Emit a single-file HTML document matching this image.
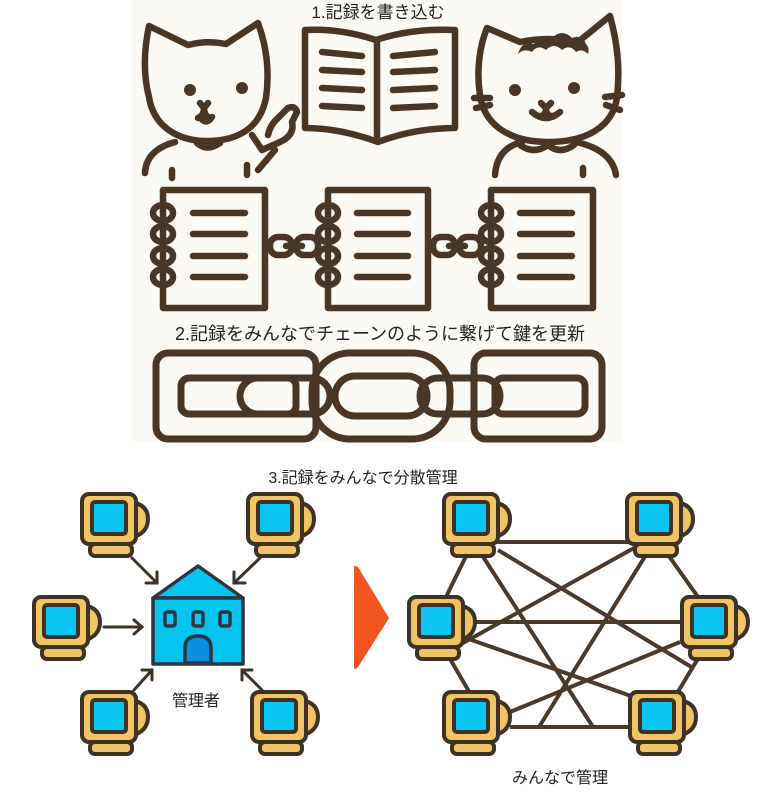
<!DOCTYPE html>
<html><head><meta charset="utf-8"><style>
html,body{margin:0;padding:0;background:#fff;width:760px;height:800px;overflow:hidden}
svg{display:block}
text{font-family:"Liberation Sans","Noto Sans CJK JP",sans-serif;fill:#222}
</style></head><body>
<svg width="760" height="800" viewBox="0 0 760 800" xmlns="http://www.w3.org/2000/svg">
<defs>
<g id="mon">
  <path d="M48,8 Q66,10 66,25 Q66,40 48,44 Z" fill="#f0c364" stroke="#3e3226" stroke-width="4"/>
  <rect x="8" y="50" width="42" height="12" rx="5" fill="#f0c364" stroke="#3e3226" stroke-width="4"/>
  <rect x="0" y="0" width="54" height="50" rx="7" fill="#f0c364" stroke="#3e3226" stroke-width="4"/>
  <rect x="10" y="8" width="34" height="32" rx="3" fill="#0ac4f2" stroke="#3e3226" stroke-width="4"/>
</g>
</defs>
<rect x="132" y="0" width="490" height="442" fill="#fbfaf5"/>
<g fill="none" stroke="#4a3624" stroke-width="6.5" stroke-linecap="round" stroke-linejoin="round">
  <path d="M149,97 C142,70 145,45 149,26 L188,45 Q207,40 226,44 L258,23 C266,45 270,70 266,98 C260,128 238,141 207,141 C175,141 153,124 149,97Z"/>
  <path d="M200,103 L204,108 L208,103 M204,108 Q204,116 210,118 M204,108 Q204,116 198,118"/>
  <path d="M200,117 Q206,126 212,117"/>
  <path d="M145,173 Q146,150 175,142 M197,143 Q207,152 220,143"/>
  <path d="M252,135 L262,150 L280,142 Q295,135 292,122 L297,112 Q295,105 288,108 L278,118 Q270,125 268,135"/>
  <path d="M172,170 L172,178 M247,165 L247,175 M258,170 L275,150"/>
  <path d="M305,30 Q340,28 376,40 Q412,28 455,30 L455,128 Q415,128 378,142 Q340,128 305,128Z"/>
  <path d="M377,42 L377,140"/>
  <path d="M322,52 L362,56 M322,70 L362,72 M322,88 L362,90 M322,106 L362,108"/>
  <path d="M393,56 L435,52 M393,72 L435,70 M393,90 L435,88 M393,108 L435,106"/>
  <path d="M480,95 C476,70 480,45 487,28 L520,42 Q548,36 578,42 L610,16 C618,45 620,70 617,98 C612,128 585,142 548,142 C510,142 484,125 480,95Z"/>
  <path d="M474,98 L490,98 M476,108 L490,105 M605,97 L622,95 M606,105 L620,110"/>
  <path d="M541,103 L546,108 L551,103 M546,108 Q546,116 552,116 M546,108 Q546,116 540,116 M532,112 Q546,124 560,112"/>
  <path d="M495,175 Q497,148 522,142 M576,142 Q612,150 616,175 M520,145 Q534,155 548,145 Q560,155 574,145 M583,168 L583,175"/>
</g>
<g fill="#4a3624"><circle cx="190" cy="90" r="6"/><circle cx="242" cy="88" r="6"/><circle cx="515" cy="90" r="6"/><circle cx="574" cy="88" r="6"/>
<path d="M518,54 q4,-14 16,-10 q6,-12 18,-6 q10,-10 20,0 q10,-4 14,6 q4,4 2,10 q-6,-6 -12,-2 q-6,-8 -14,-2 q-8,-8 -16,0 q-8,-6 -14,2 q-8,-4 -14,2z"/></g>
<text x="378" y="18" font-size="17" text-anchor="middle">1.記録を書き込む</text>
<g fill="none" stroke="#4a3624" stroke-width="6.5" stroke-linecap="round" stroke-linejoin="round">
  <rect x="163" y="190" width="102" height="118"/>
  <rect x="328" y="190" width="100" height="118"/>
  <rect x="491" y="190" width="102" height="118"/>
  <path d="M193,213 L245,213 M193,234 L245,234 M193,256 L245,256 M193,277 L245,277"/>
  <path d="M357,213 L408,213 M357,234 L408,234 M357,256 L408,256 M357,277 L408,277"/>
  <path d="M520,213 L572,213 M520,234 L572,234 M520,256 L572,256 M520,277 L572,277"/>
  <g id="rings"><ellipse cx="163" cy="213" rx="10" ry="8"/><ellipse cx="163" cy="234" rx="10" ry="8"/><ellipse cx="163" cy="256" rx="10" ry="8"/><ellipse cx="163" cy="277" rx="10" ry="8"/></g>
  <use href="#rings" x="165"/><use href="#rings" x="328"/>
  <rect x="270" y="237" width="22" height="18" rx="8"/><rect x="296" y="237" width="22" height="18" rx="8"/><path d="M286,246 L302,246"/>
  <rect x="433" y="237" width="22" height="18" rx="8"/><rect x="459" y="237" width="22" height="18" rx="8"/><path d="M449,246 L465,246"/>
</g>
<text x="380" y="340" font-size="18" text-anchor="middle">2.記録をみんなでチェーンのように繋げて鍵を更新</text>
<g fill="none" stroke="#4a3624" stroke-width="7">
  <rect x="156" y="353" width="160" height="86" rx="12"/>
  <rect x="181" y="378" width="115" height="36" rx="8"/>
  <rect x="312" y="353" width="138" height="86" rx="38"/>
  <rect x="335" y="376" width="92" height="40" rx="20"/>
  <rect x="474" y="353" width="128" height="86" rx="12"/>
  <rect x="495" y="378" width="90" height="36" rx="8"/>
  <rect x="240" y="378" width="90" height="36" rx="18"/>
  <rect x="420" y="378" width="80" height="36" rx="18"/>
</g>
<text x="363" y="483" font-size="16" text-anchor="middle">3.記録をみんなで分散管理</text>
<g stroke="#4a3a2c" stroke-width="4">
  <path d="M468,542 L634,542 M468,552 L446,597 M480,552 L593,727 M498,550 L693,668 M634,548 L463,643 M649,550 L539,727 M666,552 L698,597 M476,622 L680,622 M463,637 L634,697 M446,652 L471,695 M680,642 L510,712 M702,652 L676,695 M510,727 L629,727"/>
</g>
<use href="#mon" x="444" y="494"/><use href="#mon" x="627" y="494"/>
<use href="#mon" x="409" y="597"/><use href="#mon" x="682" y="597"/>
<use href="#mon" x="444" y="692"/><use href="#mon" x="630" y="692"/>
<text x="560" y="783" font-size="16" text-anchor="middle">みんなで管理</text>
<use href="#mon" x="82" y="494"/><use href="#mon" x="248" y="494"/>
<use href="#mon" x="34" y="597"/>
<use href="#mon" x="82" y="692"/><use href="#mon" x="252" y="692"/>
<g fill="none" stroke="#3e3226" stroke-width="3" stroke-linecap="round">
  <path d="M132,558 L157,583 M157,572 L157,583 L146,583"/>
  <path d="M260,558 L234,583 M245,583 L234,583 L234,572"/>
  <path d="M104,627 L142,627 M134,620 L142,627 L134,634"/>
  <path d="M134,690 L152,670 M142,670 L152,670 L152,680"/>
  <path d="M262,690 L242,670 M242,680 L242,670 L252,670"/>
</g>
<g stroke="#2e3440" stroke-width="3.5" stroke-linejoin="round">
  <path d="M153,598 L198,566 L243,598 Z" fill="#05c4f0"/>
  <rect x="153" y="598" width="90" height="66" fill="#05c4f0"/>
  <rect x="165" y="612" width="10" height="14" rx="2" fill="#0ac4f2"/>
  <rect x="193" y="612" width="10" height="14" rx="2" fill="#0ac4f2"/>
  <rect x="220" y="612" width="10" height="14" rx="2" fill="#0ac4f2"/>
  <path d="M185,663 L185,648 Q185,636 198,636 Q211,636 211,648 L211,663 Z" fill="#0a8fde"/>
</g>
<text x="196" y="706" font-size="16" text-anchor="middle">管理者</text>
<path d="M354,566 Q358,565 361,572 L389,618 L360,664 Q356,671 354,668 Z" fill="#f4541f"/>
</svg>
</body></html>
